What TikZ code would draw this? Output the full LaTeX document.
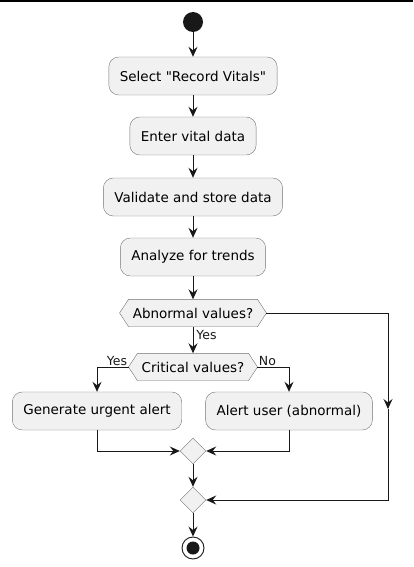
\documentclass[tikz,border=0pt]{standalone}
\usepackage{fontspec}
\setmainfont{DejaVu Sans}[Ligatures=TeXOff]
\usetikzlibrary{arrows.meta,calc,shapes.geometric,backgrounds}
\definecolor{actfill}{HTML}{F1F1F1}
\definecolor{actline}{HTML}{181818}
\tikzset{act/.style={draw=black!55,rounded corners=10pt,fill=actfill,minimum height=38pt,inner xsep=11pt,font=\fontsize{13.5}{16}\selectfont},
  hexlbl/.style={inner xsep=4pt,minimum height=27pt,font=\fontsize{13.5}{16}\selectfont},
  merge/.style={diamond,draw=black!55,fill=actfill,minimum size=26pt,inner sep=0pt},
  arr/.style={-{Stealth[length=10pt,width=9pt,inset=3.5pt]},actline,line width=0.9pt},
  lbl/.style={font=\fontsize{12.5}{15}\selectfont,inner sep=1pt}}
\newcommand{\hexaround}[1]{%
  \begin{scope}[on background layer]
  \draw[draw=black!55,fill=actfill] (#1.north west) -- (#1.north east) -- (#1-r) -- (#1.south east) -- (#1.south west) -- (#1-l) -- cycle;
  \end{scope}}

\begin{document}
\begin{tikzpicture}[x=1pt,y=-1pt]
\useasboundingbox (0,0) rectangle (413,567);
\draw[line width=2pt] (0,1)--(413,1);
% start and actions
\node[circle,fill=actline,minimum size=20pt,inner sep=0pt] (start) at (193,22) {};
\node[act] (select) at (193,76) {Select "Record Vitals"};
\node[act] (enter) at (193,136) {Enter vital data};
\node[act] (store) at (193,197) {Validate and store data};
\node[act] (trend) at (193,257) {Analyze for trends};
% decisions
\node[hexlbl] (abn) at (193,313) {Abnormal values?};
\coordinate (abn-l) at ($(abn.west)+(-9,0)$);
\coordinate (abn-r) at ($(abn.east)+(9,0)$);
\hexaround{abn}
\node[hexlbl] (crit) at (193,367) {Critical values?};
\coordinate (crit-l) at ($(crit.west)+(-9,0)$);
\coordinate (crit-r) at ($(crit.east)+(9,0)$);
\hexaround{crit}
\node[act] (urgent) at (97,411) {Generate urgent alert};
\node[act] (alert) at (289,411) {Alert user (abnormal)};
\node[merge] (m1) at (193,451) {};
\node[merge] (m2) at (193,500) {};
\node[circle,draw=actline,line width=0.9pt,fill=white,minimum size=22pt,inner sep=0pt] (stop) at (193,548) {};
\fill[actline] (stop.center) circle (6.5);
\coordinate (side) at (388,409);
% flows
\draw[arr] (start)--(select);
\draw[arr] (select)--(enter);
\draw[arr] (enter)--(store);
\draw[arr] (store)--(trend);
\draw[arr] (trend)--(abn);
\draw[arr] (abn)--(crit) node[lbl,pos=0.3,right=2pt]{Yes};
\draw[arr] (crit-l) node[lbl,above left]{Yes} -| (urgent);
\draw[arr] (crit-r) node[lbl,above right]{No} -| (alert);
\draw[arr] (urgent) |- (m1);
\draw[arr] (alert) |- (m1);
\draw[arr] (m1)--(m2);
\draw[arr] (abn-r) -| (side);
\draw[arr] (side) |- (m2);
\draw[arr] (m2)--(stop);
\end{tikzpicture}
\end{document}
